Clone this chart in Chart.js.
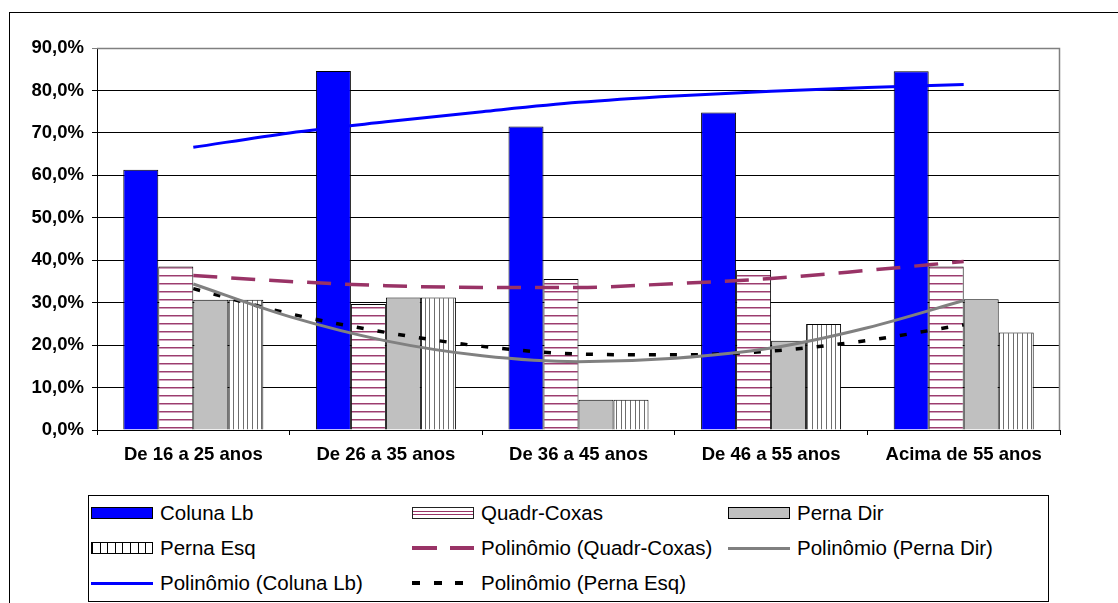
<!DOCTYPE html>
<html>
<head>
<meta charset="utf-8">
<script src="https://cdn.jsdelivr.net/npm/chart.js@4/dist/chart.umd.min.js"></script>
<style>
  html, body { margin: 0; padding: 0; background: #fff; }
  #wrap { position: relative; width: 1118px; height: 603px; overflow: hidden; font-family: "Liberation Sans", Arial, sans-serif; }
  #frame { position: absolute; left: 9px; top: 12px; width: 1300px; height: 800px; border-left: 1px solid #000; border-top: 1px solid #000; }
  canvas { position: absolute; left: 0; top: 0; }
  #legendBox { position: absolute; left: 88px; top: 495px; width: 961px; height: 107px; border: 1px solid #000; box-sizing: border-box; background: #fff; }
  .item { position: absolute; height: 24px; display: flex; align-items: center; font-size: 20.5px; line-height: 24px; white-space: nowrap; color: #000; }
  .sw { width: 62px; margin-right: 7px; box-sizing: border-box; flex: none; }
</style>
</head>
<body>
<div id="wrap">
  <div id="frame"></div>
  <canvas id="bars" width="1118" height="603"></canvas>
  <canvas id="trends" width="1118" height="603"></canvas>
  <div id="legendBox"></div>
</div>
<script>
// Age groups on the x axis
const categories = ['De 16 a 25 anos', 'De 26 a 35 anos', 'De 36 a 45 anos', 'De 46 a 55 anos', 'Acima de 55 anos'];

// Share of each complaint per age group (%)
const colunaLb   = [61.3, 84.6, 71.5, 74.8, 84.5];
const quadrCoxas = [38.5, 29.7, 35.6, 37.7, 38.5];
const pernaDir   = [30.7, 31.2, 7.1, 21.0, 30.8];
const pernaEsq   = [30.7, 31.2, 7.1, 25.0, 23.0];

// Polynomial trend curves, sampled every half group (0 = first group, 4 = last)
const trendX          = [0, 0.5, 1, 1.5, 2, 2.5, 3, 3.5, 4];
const trendColunaLb   = [66.6, 70.0, 72.6, 75.0, 77.2, 78.7, 79.8, 80.7, 81.4];
const trendQuadrCoxas = [36.4, 35.0, 34.0, 33.6, 33.6, 34.5, 35.7, 37.6, 39.7];
const trendPernaDir   = [34.4, 26.7, 21.0, 17.5, 16.1, 16.9, 19.3, 24.1, 30.5];
const trendPernaEsq   = [33.3, 27.4, 23.0, 19.7, 17.9, 17.7, 18.6, 21.1, 24.8];

// Value axis
const yMin = 0, yMax = 90, yStep = 10;

// Series names
const names = {
  colunaLb: 'Coluna Lb', quadrCoxas: 'Quadr-Coxas', pernaDir: 'Perna Dir', pernaEsq: 'Perna Esq',
  tQuadr: 'Polinômio (Quadr-Coxas)', tDir: 'Polinômio (Perna Dir)', tColuna: 'Polinômio (Coluna Lb)', tEsq: 'Polinômio (Perna Esq)'
};

// Plot area: left 97, top 48, right 1060, bottom 430 (canvas 1118 x 603)
const PAD = { left: 0, top: 48, right: 58, bottom: 113 };
const Y_AXIS_W = 97, X_AXIS_H = 60;

// Fill patterns
function makePattern(w, h, paint) {
  const c = document.createElement('canvas');
  c.width = w; c.height = h;
  const g = c.getContext('2d');
  g.fillStyle = '#fff';
  g.fillRect(0, 0, w, h);
  paint(g);
  return document.getElementById('bars').getContext('2d').createPattern(c, 'repeat');
}
const hStripes = makePattern(8, 8, g => {
  g.fillStyle = '#9c3d6d'; g.fillRect(0, 3, 8, 1);
  g.fillStyle = '#cf9fbb'; g.fillRect(0, 4, 8, 1);
});
const vStripes = makePattern(14, 4, g => {
  g.fillStyle = '#6e6e6e';
  g.fillRect(0, 0, 1, 4); g.fillRect(5, 0, 1, 4); g.fillRect(9, 0, 1, 4);
});

const barCommon = { borderColor: '#000', borderWidth: 1, categoryPercentage: 0.727, barPercentage: 1.0 };

// Plot area outline (top and right edges)
const plotFrame = {
  id: 'plotFrame',
  beforeDatasetsDraw(chart) {
    const { ctx, chartArea: a } = chart;
    ctx.save();
    ctx.strokeStyle = '#808080';
    ctx.lineWidth = 1.5;
    ctx.beginPath();
    ctx.moveTo(a.left, a.top + 0.5);
    ctx.lineTo(a.right - 0.5, a.top + 0.5);
    ctx.lineTo(a.right - 0.5, a.bottom);
    ctx.stroke();
    ctx.restore();
  }
};

const labelFont = { family: '"Liberation Sans", Arial, sans-serif', size: 18.5, weight: 'bold' };

// Clustered columns with axes
new Chart(document.getElementById('bars'), {
  type: 'bar',
  data: {
    labels: categories,
    datasets: [
      Object.assign({ label: names.colunaLb, data: colunaLb, backgroundColor: '#0000ff' }, barCommon),
      Object.assign({ label: names.quadrCoxas, data: quadrCoxas, backgroundColor: hStripes }, barCommon),
      Object.assign({ label: names.pernaDir, data: pernaDir, backgroundColor: '#c0c0c0' }, barCommon),
      Object.assign({ label: names.pernaEsq, data: pernaEsq, backgroundColor: vStripes }, barCommon)
    ]
  },
  options: {
    responsive: false,
    animation: false,
    events: [],
    layout: { padding: PAD },
    plugins: { legend: { display: false }, tooltip: { enabled: false } },
    scales: {
      x: {
        offset: true,
        grid: { display: true, drawOnChartArea: false, drawTicks: true, tickLength: 5, color: '#000', offset: true },
        border: { display: true, color: '#000', width: 1 },
        ticks: { color: '#000', font: labelFont, maxRotation: 0, autoSkip: false, padding: 9 },
        afterFit(s) { s.height = X_AXIS_H; }
      },
      y: {
        min: yMin, max: yMax,
        grid: { color: ctx => (ctx.tick && ctx.tick.value === yMax ? '#808080' : '#000'), lineWidth: 1, tickLength: 5, drawTicks: true },
        border: { display: true, color: '#000', width: 1 },
        ticks: {
          stepSize: yStep, color: '#000', font: labelFont, padding: 8,
          callback: v => v.toFixed(1).replace('.', ',') + '%'
        },
        afterFit(s) { s.width = Y_AXIS_W; }
      }
    }
  },
  plugins: [plotFrame]
});

// Trend lines, drawn over the same plot area
const pts = arr => trendX.map((x, i) => ({ x: x, y: arr[i] }));
const lineCommon = { pointRadius: 0, fill: false, tension: 0.4, cubicInterpolationMode: 'monotone', borderCapStyle: 'butt' };
new Chart(document.getElementById('trends'), {
  type: 'line',
  data: {
    datasets: [
      Object.assign({ label: names.tColuna, data: pts(trendColunaLb), borderColor: '#0000ff', borderWidth: 3 }, lineCommon),
      Object.assign({ label: names.tQuadr, data: pts(trendQuadrCoxas), borderColor: '#993366', borderWidth: 3.5, borderDash: [24, 14] }, lineCommon),
      Object.assign({ label: names.tDir, data: pts(trendPernaDir), borderColor: '#808080', borderWidth: 3 }, lineCommon),
      Object.assign({ label: names.tEsq, data: pts(trendPernaEsq), borderColor: '#000', borderWidth: 3.5, borderDash: [7, 14] }, lineCommon)
    ]
  },
  options: {
    responsive: false,
    animation: false,
    events: [],
    layout: { padding: { left: PAD.left + Y_AXIS_W, top: PAD.top, right: PAD.right, bottom: PAD.bottom + X_AXIS_H } },
    plugins: { legend: { display: false }, tooltip: { enabled: false } },
    scales: {
      x: { type: 'linear', display: false, min: -0.5, max: 4.5 },
      y: { display: false, min: yMin, max: yMax }
    }
  }
});

// Legend (three columns, three rows)
const legendItems = [
  { text: names.colunaLb, col: 0, row: 0, kind: 'solid-bar' },
  { text: names.quadrCoxas, col: 1, row: 0, kind: 'hstripe-bar' },
  { text: names.pernaDir, col: 2, row: 0, kind: 'gray-bar' },
  { text: names.pernaEsq, col: 0, row: 1, kind: 'vstripe-bar' },
  { text: names.tQuadr, col: 1, row: 1, kind: 'dash-line' },
  { text: names.tDir, col: 2, row: 1, kind: 'gray-line' },
  { text: names.tColuna, col: 0, row: 2, kind: 'blue-line' },
  { text: names.tEsq, col: 1, row: 2, kind: 'dot-line' }
];
const colLeft = [91, 412, 728];
const rowCenter = [512.5, 548, 583];
const swatchStyle = {
  'solid-bar': 'height:12px;background:#0000ff;border:1.5px solid #000;',
  'hstripe-bar': 'height:12px;background:linear-gradient(#fff 0 3px,#993366 3px 4px,#fff 4px 6px,#993366 6px 7px,#fff 7px);border:1px solid #222;',
  'gray-bar': 'height:12px;background:#c0c0c0;border:1.5px solid #000;',
  'vstripe-bar': 'height:12px;background:repeating-linear-gradient(90deg,#000 0 1px,#fff 1px 7.6px);border:1.5px solid #000;',
  'dash-line': 'height:4px;background:repeating-linear-gradient(90deg,#993366 0 25px,transparent 25px 38.3px);',
  'gray-line': 'height:3px;background:#808080;',
  'blue-line': 'height:3px;background:#0000ff;',
  'dot-line': 'height:4px;background:repeating-linear-gradient(90deg,#000 0 8px,transparent 8px 21.7px);'
};
const wrap = document.getElementById('wrap');
legendItems.forEach(it => {
  const d = document.createElement('div');
  d.className = 'item';
  d.style.left = colLeft[it.col] + 'px';
  d.style.top = (rowCenter[it.row] - 12) + 'px';
  const sw = document.createElement('span');
  sw.className = 'sw';
  sw.style.cssText += swatchStyle[it.kind];
  const t = document.createElement('span');
  t.textContent = it.text;
  d.appendChild(sw);
  d.appendChild(t);
  wrap.appendChild(d);
});
</script>
</body>
</html>
